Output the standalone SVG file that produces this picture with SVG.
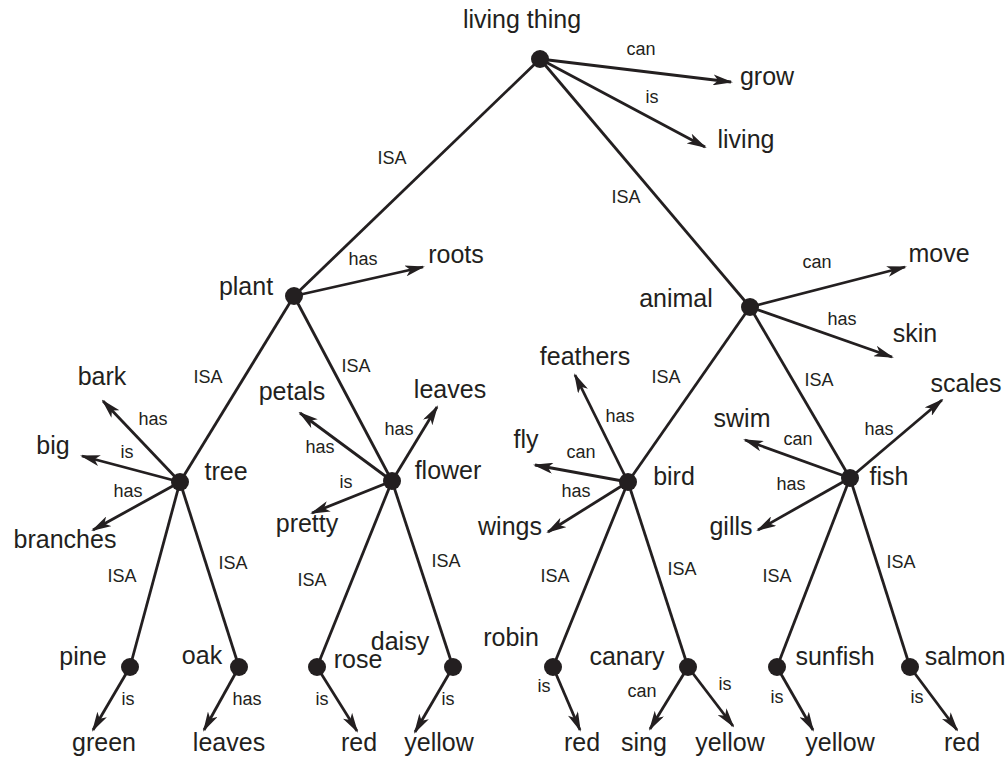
<svg xmlns="http://www.w3.org/2000/svg" width="1008" height="759" viewBox="0 0 1008 759">
<defs>
<marker id="ah" markerUnits="userSpaceOnUse" markerWidth="20" markerHeight="11" refX="18" refY="5.5" orient="auto">
<path d="M0,0 L20,5.5 L0,11 L5,5.5 Z" fill="#231f20"/>
</marker>
<style>
.e{stroke:#231f20;stroke-width:2.8;fill:none}
.a{stroke:#231f20;stroke-width:2.8;fill:none;marker-end:url(#ah)}
.d{fill:#231f20}
.n{font-family:"Liberation Sans",Arial,sans-serif;font-size:25px;fill:#231f20;text-anchor:middle}
.l{font-family:"Liberation Sans",Arial,sans-serif;font-size:18px;fill:#231f20;text-anchor:middle}
</style>
</defs>
<rect width="1008" height="759" fill="#fff"/>
<g id="connectors">
<line class="e" x1="540" y1="59" x2="294" y2="296"/>
<line class="e" x1="540" y1="59" x2="750" y2="307"/>
<line class="e" x1="294" y1="296" x2="180" y2="482"/>
<line class="e" x1="294" y1="296" x2="392" y2="481"/>
<line class="e" x1="750" y1="307" x2="628" y2="482"/>
<line class="e" x1="750" y1="307" x2="850" y2="478"/>
<line class="e" x1="180" y1="482" x2="130" y2="667"/>
<line class="e" x1="180" y1="482" x2="239" y2="667"/>
<line class="e" x1="392" y1="481" x2="317" y2="667"/>
<line class="e" x1="392" y1="481" x2="453" y2="667"/>
<line class="e" x1="628" y1="482" x2="553" y2="667"/>
<line class="e" x1="628" y1="482" x2="688" y2="667"/>
<line class="e" x1="850" y1="478" x2="777" y2="667"/>
<line class="e" x1="850" y1="478" x2="910" y2="667"/>
<line class="a" x1="540" y1="59" x2="731" y2="82"/>
<line class="a" x1="540" y1="59" x2="705" y2="147"/>
<line class="a" x1="294" y1="296" x2="423" y2="267"/>
<line class="a" x1="750" y1="307" x2="905" y2="267"/>
<line class="a" x1="750" y1="307" x2="892" y2="357"/>
<line class="a" x1="180" y1="482" x2="103" y2="401"/>
<line class="a" x1="180" y1="482" x2="82" y2="456"/>
<line class="a" x1="180" y1="482" x2="93" y2="530"/>
<line class="a" x1="392" y1="481" x2="300" y2="413"/>
<line class="a" x1="392" y1="481" x2="437" y2="407"/>
<line class="a" x1="392" y1="481" x2="312" y2="513"/>
<line class="a" x1="628" y1="482" x2="575" y2="375"/>
<line class="a" x1="628" y1="482" x2="535" y2="465"/>
<line class="a" x1="628" y1="482" x2="548" y2="532"/>
<line class="a" x1="850" y1="478" x2="942" y2="400"/>
<line class="a" x1="850" y1="478" x2="745" y2="440"/>
<line class="a" x1="850" y1="478" x2="758" y2="530"/>
<line class="a" x1="130" y1="667" x2="93" y2="730"/>
<line class="a" x1="239" y1="667" x2="204" y2="730"/>
<line class="a" x1="317" y1="667" x2="357" y2="731"/>
<line class="a" x1="453" y1="667" x2="415" y2="732"/>
<line class="a" x1="553" y1="667" x2="580" y2="730"/>
<line class="a" x1="688" y1="667" x2="650" y2="729"/>
<line class="a" x1="688" y1="667" x2="733" y2="726"/>
<line class="a" x1="777" y1="667" x2="813" y2="730"/>
<line class="a" x1="910" y1="667" x2="957" y2="730"/>
<text class="l" x="641" y="55">can</text>
<text class="l" x="652" y="103">is</text>
<text class="l" x="392" y="164">ISA</text>
<text class="l" x="626" y="203">ISA</text>
<text class="l" x="363" y="265">has</text>
<text class="l" x="817" y="268">can</text>
<text class="l" x="842" y="325">has</text>
<text class="l" x="208" y="383">ISA</text>
<text class="l" x="356" y="372">ISA</text>
<text class="l" x="666" y="383">ISA</text>
<text class="l" x="819" y="386">ISA</text>
<text class="l" x="153" y="425">has</text>
<text class="l" x="127" y="458">is</text>
<text class="l" x="128" y="497">has</text>
<text class="l" x="320" y="453">has</text>
<text class="l" x="399" y="435">has</text>
<text class="l" x="346" y="488">is</text>
<text class="l" x="620" y="422">has</text>
<text class="l" x="581" y="458">can</text>
<text class="l" x="576" y="497">has</text>
<text class="l" x="798" y="445">can</text>
<text class="l" x="791" y="490">has</text>
<text class="l" x="879" y="435">has</text>
<text class="l" x="122" y="582">ISA</text>
<text class="l" x="233" y="569">ISA</text>
<text class="l" x="312" y="586">ISA</text>
<text class="l" x="446" y="567">ISA</text>
<text class="l" x="555" y="582">ISA</text>
<text class="l" x="682" y="575">ISA</text>
<text class="l" x="777" y="582">ISA</text>
<text class="l" x="901" y="568">ISA</text>
<text class="l" x="128" y="705">is</text>
<text class="l" x="247" y="705">has</text>
<text class="l" x="322" y="705">is</text>
<text class="l" x="448" y="705">is</text>
<text class="l" x="544" y="692">is</text>
<text class="l" x="642" y="697">can</text>
<text class="l" x="725" y="690">is</text>
<text class="l" x="777" y="703">is</text>
<text class="l" x="917" y="703">is</text>
</g>
<g id="living-thing"><circle class="d" cx="540" cy="59" r="9"/><text class="n" x="522" y="28">living thing</text></g>
<g id="grow"><text class="n" x="767" y="85">grow</text></g>
<g id="living"><text class="n" x="746" y="148">living</text></g>
<g id="plant"><circle class="d" cx="294" cy="296" r="9"/><text class="n" x="246" y="295">plant</text></g>
<g id="roots"><text class="n" x="456" y="263">roots</text></g>
<g id="animal"><circle class="d" cx="750" cy="307" r="9"/><text class="n" x="676" y="307">animal</text></g>
<g id="move"><text class="n" x="939" y="262">move</text></g>
<g id="skin"><text class="n" x="915" y="342">skin</text></g>
<g id="tree"><circle class="d" cx="180" cy="482" r="9"/><text class="n" x="226" y="480">tree</text></g>
<g id="bark"><text class="n" x="102" y="385">bark</text></g>
<g id="big"><text class="n" x="53" y="454">big</text></g>
<g id="branches"><text class="n" x="65" y="548">branches</text></g>
<g id="flower"><circle class="d" cx="392" cy="481" r="9"/><text class="n" x="448" y="479">flower</text></g>
<g id="petals"><text class="n" x="292" y="400">petals</text></g>
<g id="flower-leaves"><text class="n" x="450" y="398">leaves</text></g>
<g id="pretty"><text class="n" x="307" y="532">pretty</text></g>
<g id="bird"><circle class="d" cx="628" cy="482" r="9"/><text class="n" x="674" y="485">bird</text></g>
<g id="feathers"><text class="n" x="585" y="365">feathers</text></g>
<g id="fly"><text class="n" x="526" y="448">fly</text></g>
<g id="wings"><text class="n" x="510" y="535">wings</text></g>
<g id="fish"><circle class="d" cx="850" cy="478" r="9"/><text class="n" x="889" y="485">fish</text></g>
<g id="swim"><text class="n" x="742" y="427">swim</text></g>
<g id="scales"><text class="n" x="966" y="392">scales</text></g>
<g id="gills"><text class="n" x="731" y="535">gills</text></g>
<g id="pine"><circle class="d" cx="130" cy="667" r="9"/><text class="n" x="83" y="665">pine</text></g>
<g id="oak"><circle class="d" cx="239" cy="667" r="9"/><text class="n" x="202" y="664">oak</text></g>
<g id="rose"><circle class="d" cx="317" cy="667" r="9"/><text class="n" x="358" y="668">rose</text></g>
<g id="daisy"><circle class="d" cx="453" cy="667" r="9"/><text class="n" x="400" y="650">daisy</text></g>
<g id="robin"><circle class="d" cx="553" cy="667" r="9"/><text class="n" x="511" y="646">robin</text></g>
<g id="canary"><circle class="d" cx="688" cy="667" r="9"/><text class="n" x="627" y="665">canary</text></g>
<g id="sunfish"><circle class="d" cx="777" cy="667" r="9"/><text class="n" x="835" y="665">sunfish</text></g>
<g id="salmon"><circle class="d" cx="910" cy="667" r="9"/><text class="n" x="965" y="665">salmon</text></g>
<g id="green"><text class="n" x="104" y="751">green</text></g>
<g id="oak-leaves"><text class="n" x="229" y="751">leaves</text></g>
<g id="rose-red"><text class="n" x="359" y="751">red</text></g>
<g id="daisy-yellow"><text class="n" x="439" y="751">yellow</text></g>
<g id="robin-red"><text class="n" x="582" y="751">red</text></g>
<g id="sing"><text class="n" x="644" y="751">sing</text></g>
<g id="canary-yellow"><text class="n" x="730" y="751">yellow</text></g>
<g id="sunfish-yellow"><text class="n" x="840" y="751">yellow</text></g>
<g id="salmon-red"><text class="n" x="962" y="751">red</text></g>
</svg>
